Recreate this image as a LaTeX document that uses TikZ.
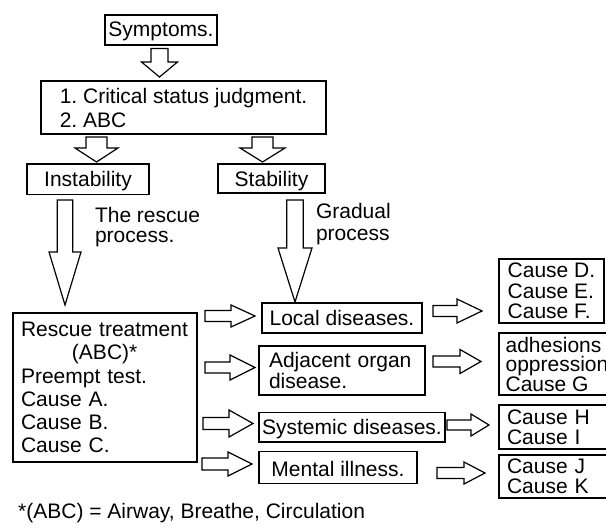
\documentclass[tikz,border=0pt]{standalone}
\usepackage{fontspec}
\setmainfont{Liberation Sans}
\AtBeginDocument{\frenchspacing}
\newcommand\darr[6]{% centre x, top y, head y, tip y, shaft half, head half
  \draw[harrow] (#1-#5,#2) -- (#1+#5,#2) -- (#1+#5,#3) -- (#1+#6,#3) -- (#1,#4) -- (#1-#6,#3) -- (#1-#5,#3) -- cycle;}
\newcommand\rarr[6]{% left x, head x, tip x, centre y, shaft half, head half
  \draw[harrow] (#1,#4-#5) -- (#2,#4-#5) -- (#2,#4-#6) -- (#3,#4) -- (#2,#4+#6) -- (#2,#4+#5) -- (#1,#4+#5) -- cycle;}
\tikzset{
  box/.style={draw, line width=1.4pt, inner sep=0pt, outer sep=0pt},
  one/.style={box, font=\fontsize{21}{24}\selectfont, text height=15pt, text depth=0pt},
  multi/.style={box, align=left},
  harrow/.style={draw, line width=1.2pt, line join=miter, fill=white},
  lbl/.style={inner sep=0pt, outer sep=0pt, align=left, anchor=north west}
}
\begin{document}
\begin{tikzpicture}[x=1pt, y=-1pt]
\useasboundingbox (0,0) rectangle (606,530);
\fill[white] (0,0) rectangle (606,530);

% boxes
\node[one, text depth=3pt, minimum width=112pt, minimum height=30pt] (symptoms) at (161,30) {Symptoms.};
\node[multi, font=\fontsize{21}{24}\selectfont, minimum width=285pt, minimum height=53pt] (critical) at (183.5,107.5) {1. Critical status judgment.\\2. ABC};
\node[one, minimum width=122pt, minimum height=30.5pt] (instab) at (88,179.3) {Instability};
\node[one, minimum width=107pt, minimum height=29pt] (stab) at (271.5,178.5) {Stability};
\node[multi, font=\fontsize{21}{23.2}\selectfont, text width=168pt, minimum width=184pt, minimum height=149pt] (rescue) at (105,387.5) {Rescue treatment\\\hspace*{51pt}(ABC)*\\Preempt test.\\Cause A.\\Cause B.\\Cause C.};
\node[one, text depth=1pt, minimum width=160pt, minimum height=30pt] (local) at (342,318) {Local diseases.};
\node[multi, font=\fontsize{21}{21}\selectfont, text width=146pt, minimum width=166pt, minimum height=49pt] (adjacent) at (342,370.5) {Adjacent organ\\disease.};
\node[one, minimum width=186pt, minimum height=29.3pt] (systemic) at (352,427.3) {Systemic diseases.};
\node[one, text height=18pt, minimum width=158pt, minimum height=31.6pt] (mental) at (338,467.5) {Mental illness.};
\node[multi, font=\fontsize{21}{20.5}\selectfont, minimum width=105pt, minimum height=64pt] (causeD) at (551.5,291) {Cause D.\\Cause E.\\Cause F.};
\node[multi, font=\fontsize{21}{19.5}\selectfont, minimum width=116pt, minimum height=62pt] (adhesions) at (557,364) {adhesions\\oppression\\Cause G};
\node[multi, font=\fontsize{21}{20}\selectfont, text width=100pt, minimum width=116pt, minimum height=44pt] (causeH) at (557,427) {Cause H\\Cause I};
\node[multi, font=\fontsize{21}{20}\selectfont, text width=100pt, minimum width=116pt, minimum height=43pt] (causeJ) at (557,476.5) {Cause J\\Cause K};

% labels
\node[lbl, font=\fontsize{21}{20}\selectfont] (rescuelbl) at (95,207) {The rescue\\process.};
\node[lbl, font=\fontsize{21}{22}\selectfont] (gradlbl) at (316,203) {Gradual\\process};
\node[inner sep=0pt, anchor=base west, font=\fontsize{21}{24}\selectfont] (foot) at (18,518) {*(ABC) = Airway, Breathe, Circulation};

% hollow arrows (down)
\darr{159.5}{48.5}{62}{77}{8.5}{18}
\darr{96.5}{137}{148}{162}{10.5}{21.5}
\darr{262.5}{137}{148}{162}{10.5}{22.5}
\darr{65}{200}{252}{305}{7.7}{16}
\darr{295}{200}{248}{302}{8.3}{17}

% hollow arrows (right)
\rarr{205}{231}{255}{316}{5.5}{11}
\rarr{205}{230}{255}{367.5}{5.5}{12.5}
\rarr{203}{229}{253}{423.5}{6}{13.5}
\rarr{202}{228}{252}{464}{6}{12}
\rarr{433}{457}{482}{311}{5.5}{12}
\rarr{433}{460}{481}{361.5}{5.5}{12}
\rarr{447}{471}{489}{425}{5}{11}
\rarr{437}{464}{485}{473}{5.5}{11}
\end{tikzpicture}
\end{document}
